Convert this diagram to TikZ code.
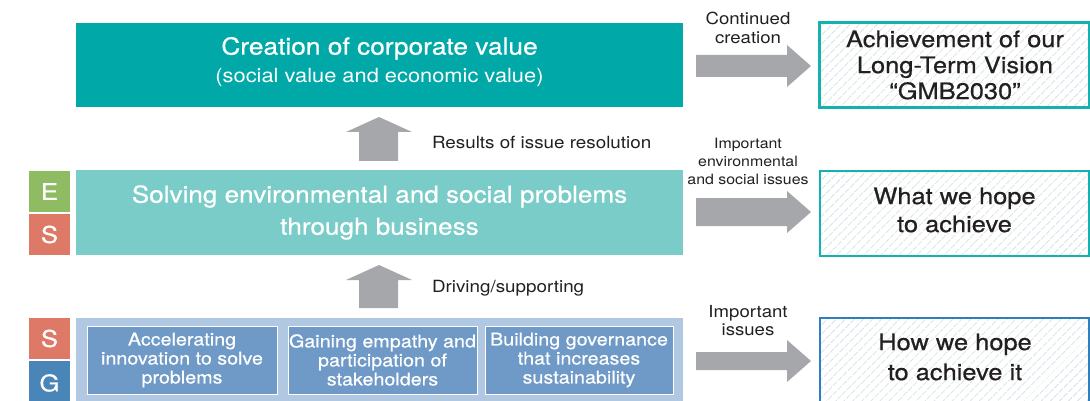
\documentclass[tikz,border=0pt]{standalone}
\usepackage{fontspec}
\setmainfont{TeX Gyre Heros}[FakeStretch=1.12]
\newfontfamily\medfont{TeX Gyre Heros}[FakeStretch=1.12,FakeBold=0.6]
\usetikzlibrary{patterns.meta}
\definecolor{topteal}{HTML}{00A9A8}
\definecolor{midteal}{HTML}{79CCC8}
\definecolor{egreen}{HTML}{8FBC62}
\definecolor{ssalmon}{HTML}{DE7867}
\definecolor{gblue}{HTML}{4A85B8}
\definecolor{lightbg}{HTML}{B1C8E2}
\definecolor{innerblue}{HTML}{6F9AC7}
\definecolor{arrowgray}{HTML}{A6A7AA}
\definecolor{darktext}{HTML}{231F20}
\definecolor{borderteal}{HTML}{14B1B1}
\definecolor{borderblue}{HTML}{2F7EBE}
\definecolor{hatch}{HTML}{CCDCE0}
\tikzset{
  blk/.style={rectangle, inner sep=0pt, outer sep=0pt, draw=none, align=center},
  letterbox/.style={blk, minimum width=41pt, minimum height=41pt, text=white, font=\medfont\fontsize{23}{24}\selectfont},
  innerbox/.style={blk, fill=innerblue, draw=white, line width=0.8pt, minimum height=68pt, text=white, font=\medfont\fontsize{17.6}{19}\selectfont},
  goalbox/.style={blk, pattern={Lines[angle=45,distance=6.4pt,line width=1pt]}, pattern color=hatch, text=darktext},
  goaltext/.style={inner sep=0pt, outer sep=0pt, align=center, text=darktext, font=\medfont\fontsize{22.7}{26}\selectfont},
  lbl/.style={inner sep=0pt, outer sep=0pt, text=darktext, align=center},
  blockarrow/.style={fill=arrowgray}
}
\begin{document}
\begin{tikzpicture}[x=1pt,y=-1pt]
\useasboundingbox (0,0) rectangle (1090,401);
\clip (0,0) rectangle (1090,401);
% main bars
\node[blk, fill=topteal, minimum width=607pt, minimum height=84pt, text=white, text depth=11pt] (top) at (379.5,65.5)
  {\medfont\fontsize{23.5}{30}\selectfont Creation of corporate value\\[8pt]\fontsize{19.5}{21}\selectfont (social value and economic value)};
\node[blk, fill=midteal, minimum width=607pt, minimum height=85pt, text=white,
  font=\medfont\fontsize{23.3}{32}\selectfont] (mid) at (379.5,212.5)
  {Solving environmental and social problems\\through business};
\node[blk, fill=lightbg, minimum width=607pt, minimum height=92pt] (bot) at (379.5,364) {};
% ESG letters
\node[letterbox, fill=egreen] (E) at (49.5,191.5) {E};
\node[letterbox, fill=ssalmon] (S1) at (49.5,234.5) {S};
\node[letterbox, fill=ssalmon] (S2) at (49.5,338.5) {S};
\node[letterbox, fill=gblue, minimum height=44pt] (G) at (49.5,383) {G};
% inner boxes
\node[innerbox, minimum width=190pt] (in1) at (182,360) {Accelerating\\innovation to solve\\problems};
\node[innerbox, minimum width=189pt] (in2) at (382.5,360) {Gaining empathy and\\participation of\\stakeholders};
\node[innerbox, minimum width=188pt] (in3) at (579,360) {Building governance\\that increases\\sustainability};
% goal boxes
\node[goalbox, draw=borderteal, line width=3pt, minimum width=270pt, minimum height=85pt] (g1) at (954,65.5) {};
\node[goaltext] (t1) at (955,65) {Achievement of our\\Long-Term Vision\\“GMB2030”};
\node[goalbox, draw=borderteal, line width=1.3pt, minimum width=269pt, minimum height=85pt] (g2) at (954.5,213.5) {};
\node[goaltext, font=\medfont\fontsize{22.7}{28}\selectfont] (t2) at (954.5,210) {What we hope\\to achieve};
\node[goalbox, draw=borderblue, line width=1.5pt, minimum width=269pt, minimum height=92pt] (g3) at (954.5,364) {};
\node[goaltext, font=\medfont\fontsize{22.7}{30}\selectfont] (t3) at (955,357) {How we hope\\to achieve it};
% up arrows
\fill[blockarrow] (359,161) -- (359,132) -- (346,132) -- (379,117) -- (412,132) -- (398,132) -- (398,161) -- cycle;
\fill[blockarrow] (359,308) -- (359,280) -- (346,280) -- (379,265) -- (412,280) -- (398,280) -- (398,308) -- cycle;
% right arrows
\fill[blockarrow] (696,55) -- (787,55) -- (787,45) -- (811,66) -- (787,87) -- (787,77) -- (696,77) -- cycle;
\fill[blockarrow] (696,198) -- (787,198) -- (787,191) -- (811,212) -- (787,233) -- (787,226) -- (696,226) -- cycle;
\fill[blockarrow] (696,352) -- (787,352) -- (787,340) -- (811,361) -- (787,382) -- (787,370) -- (696,370) -- cycle;
% labels
\node[lbl, anchor=west, font=\fontsize{16.8}{19}\selectfont] (r1) at (432,142) {Results of issue resolution};
\node[lbl, anchor=west, font=\fontsize{16.8}{19}\selectfont] (r2) at (432,288) {Driving/supporting};
\node[lbl, font=\fontsize{16.6}{19}\selectfont] (c1) at (748,27.5) {Continued\\creation};
\node[lbl, font=\fontsize{14.2}{18}\selectfont] (c2) at (748,161) {Important\\environmental\\and social issues};
\node[lbl, font=\fontsize{16.6}{18}\selectfont] (c3) at (748,321) {Important\\issues};
\end{tikzpicture}
\end{document}
